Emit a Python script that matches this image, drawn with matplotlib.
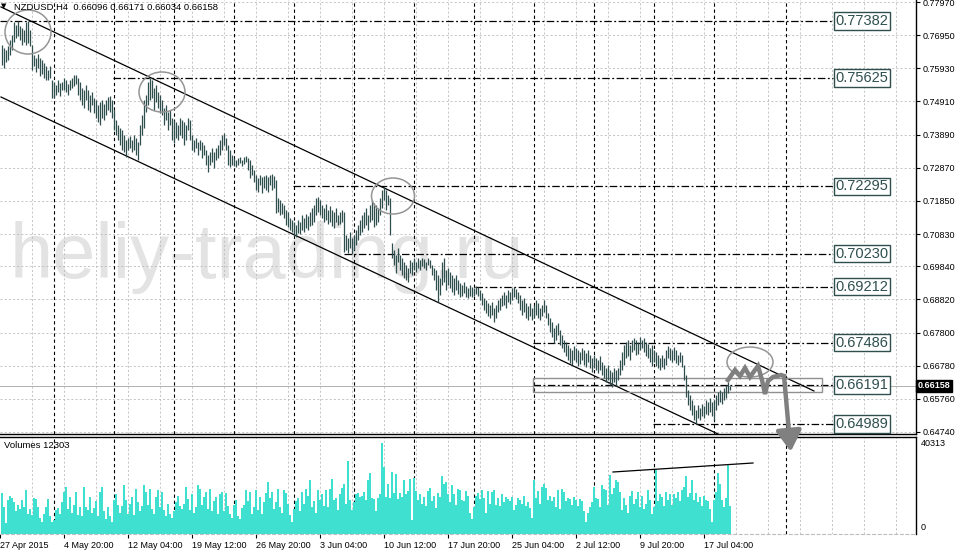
import matplotlib
matplotlib.use("Agg")
import matplotlib.pyplot as plt
from matplotlib.patches import Ellipse, Rectangle, FancyArrowPatch
import numpy as np

plt.rcParams['font.family'] = ['Liberation Sans', 'DejaVu Sans']

# NZDUSD H4 bars, high / low in pips (1 pip = 0.0001), one row per trading week
bar_high = [
    7665, 7656, 7649, 7661, 7680, 7695, 7735, 7726, 7738, 7723, 7717, 7711, 7735, 7738, 7711, 7665, 7634, 7625, 7637, 7625, 7618, 7609, 7600, 7588, 7600, 7557,
    7551, 7541, 7557, 7548, 7551, 7563, 7557, 7545, 7557, 7563, 7572, 7572, 7563, 7551, 7532, 7526, 7541, 7526, 7511, 7520, 7502, 7495, 7480, 7489, 7495, 7483, 7495, 7505, 7508, 7495,
    7465, 7434, 7418, 7409, 7403, 7388, 7372, 7378, 7385, 7372, 7388, 7378, 7366, 7418, 7449, 7495, 7511, 7551, 7562, 7557, 7532, 7541, 7520, 7511, 7495, 7471, 7480, 7458, 7465, 7440,
    7434, 7428, 7418, 7440, 7434, 7428, 7418, 7440, 7434, 7388, 7372, 7378, 7366, 7372, 7366, 7357, 7342, 7326, 7335, 7348, 7335, 7348, 7357, 7372, 7388, 7394, 7378, 7357, 7342, 7326,
    7317, 7311, 7317, 7320, 7311, 7320, 7323, 7317, 7311, 7295, 7280, 7265, 7255, 7265, 7258, 7261, 7265, 7258, 7265, 7268, 7261, 7249, 7194, 7188, 7178, 7172, 7157, 7151, 7132, 7126,
    7120, 7111, 7126, 7120, 7141, 7132, 7145, 7138, 7151, 7163, 7172, 7194, 7197, 7188, 7172, 7163, 7175, 7157, 7169, 7157, 7151, 7163, 7141, 7151, 7157, 7151, 7080, 7071, 7089, 7071,
    7080, 7095, 7111, 7126, 7141, 7151, 7163, 7141, 7172, 7188, 7178, 7172, 7163, 7194, 7218, 7229, 7218, 7203, 7194, 7055, 7034, 7018, 7040, 7018, 7009, 6997, 6988, 6978, 7003, 6997,
    7009, 6997, 7009, 7003, 7009, 7006, 6997, 7009, 7003, 6988, 6978, 6972, 6957, 6948, 6997, 7009, 6972, 6978, 6966, 6957, 6948, 6957, 6942, 6932, 6926, 6935, 6923, 6917, 6926, 6920,
    6917, 6923, 6920, 6911, 6901, 6886, 6880, 6871, 6865, 6874, 6855, 6865, 6880, 6886, 6895, 6905, 6895, 6911, 6905, 6917, 6920, 6914, 6905, 6895, 6880, 6886, 6871, 6861, 6871, 6855,
    6865, 6880, 6871, 6855, 6865, 6880, 6865, 6840, 6825, 6812, 6794, 6803, 6809, 6788, 6772, 6757, 6751, 6742, 6732, 6726, 6738, 6732, 6726, 6720, 6732, 6726, 6717, 6726, 6711, 6702,
    6711, 6702, 6695, 6708, 6689, 6680, 6671, 6680, 6665, 6658, 6671, 6665, 6671, 6695, 6720, 6742, 6751, 6757, 6742, 6757, 6763, 6757, 6751, 6766, 6757, 6763, 6751, 6745, 6732, 6742,
    6726, 6720, 6711, 6702, 6711, 6702, 6726, 6738, 6732, 6726, 6735, 6726, 6711, 6720, 6711, 6680, 6649, 6603, 6588, 6572, 6557, 6541, 6557, 6548, 6560, 6554, 6572, 6566, 6579, 6566,
    6572, 6588, 6597, 6603, 6597, 6609, 6618, 6628, 6617,
]
bar_low = [
    7603, 7594, 7612, 7618, 7634, 7649, 7674, 7686, 7692, 7680, 7665, 7674, 7665, 7671, 7661, 7588, 7600, 7582, 7594, 7569, 7575, 7563, 7557, 7557, 7563, 7502,
    7502, 7511, 7520, 7508, 7526, 7526, 7520, 7511, 7526, 7532, 7538, 7545, 7511, 7495, 7480, 7471, 7495, 7465, 7458, 7480, 7455, 7440, 7428, 7418, 7440, 7434, 7449, 7465, 7458, 7440,
    7403, 7388, 7372, 7357, 7342, 7335, 7320, 7342, 7348, 7335, 7342, 7326, 7311, 7357, 7388, 7409, 7458, 7480, 7495, 7502, 7465, 7489, 7471, 7455, 7449, 7418, 7434, 7403, 7418, 7372,
    7363, 7378, 7372, 7388, 7378, 7357, 7372, 7403, 7372, 7342, 7335, 7348, 7326, 7342, 7317, 7326, 7295, 7274, 7295, 7305, 7286, 7311, 7317, 7326, 7342, 7357, 7342, 7295, 7289, 7295,
    7292, 7289, 7295, 7301, 7292, 7298, 7305, 7280, 7255, 7265, 7243, 7218, 7212, 7234, 7209, 7224, 7218, 7212, 7234, 7218, 7224, 7147, 7151, 7141, 7144, 7132, 7111, 7105, 7095, 7089,
    7077, 7074, 7086, 7083, 7095, 7089, 7101, 7095, 7108, 7111, 7120, 7141, 7151, 7141, 7132, 7120, 7126, 7114, 7120, 7108, 7101, 7120, 7111, 7114, 7120, 7028, 7034, 7025, 7040, 7022,
    7034, 7049, 7065, 7080, 7089, 7101, 7111, 7095, 7120, 7126, 7105, 7111, 7120, 7141, 7163, 7188, 7157, 7172, 7080, 7009, 6988, 6963, 6997, 6972, 6957, 6948, 6942, 6935, 6963, 6957,
    6972, 6966, 6978, 6972, 6985, 6978, 6972, 6988, 6978, 6957, 6942, 6911, 6874, 6895, 6926, 6935, 6911, 6926, 6917, 6905, 6895, 6911, 6898, 6889, 6892, 6901, 6889, 6886, 6892, 6889,
    6892, 6898, 6892, 6880, 6865, 6849, 6840, 6831, 6825, 6834, 6812, 6825, 6843, 6849, 6862, 6865, 6855, 6874, 6868, 6880, 6889, 6883, 6871, 6849, 6834, 6843, 6825, 6819, 6831, 6819,
    6825, 6834, 6825, 6819, 6831, 6843, 6825, 6803, 6782, 6766, 6748, 6757, 6772, 6742, 6732, 6720, 6708, 6695, 6686, 6680, 6695, 6689, 6677, 6683, 6695, 6680, 6674, 6689, 6671, 6658,
    6671, 6665, 6655, 6665, 6649, 6640, 6628, 6634, 6618, 6612, 6628, 6615, 6634, 6649, 6665, 6680, 6702, 6708, 6695, 6720, 6726, 6711, 6714, 6726, 6732, 6720, 6708, 6702, 6689, 6677,
    6689, 6677, 6671, 6665, 6674, 6668, 6680, 6702, 6695, 6689, 6695, 6686, 6680, 6689, 6674, 6634, 6582, 6557, 6541, 6526, 6511, 6499, 6517, 6511, 6523, 6517, 6529, 6526, 6535, 6523,
    6511, 6541, 6557, 6566, 6560, 6572, 6579, 6594, 6603,
]
volumes = [
    18000, 12000, 4700, 15000, 17000, 16000, 14000, 10000, 13000, 11000, 15000, 12000, 19500, 9000, 11000, 8500, 16000, 15500, 12000, 7000, 5500, 9000, 12000, 15500, 8000, 5500,
    6000, 10500, 11500, 9000, 14000, 18500, 21000, 11000, 16500, 9500, 13000, 18500, 8500, 12000, 8000, 21000, 12000, 10500, 16500, 9500, 11500, 14500, 8000, 18500, 21000, 10000, 6500, 12000, 8000, 5500,
    15000, 17500, 13000, 9500, 12500, 21500, 15000, 9000, 13500, 16500, 8500, 20000, 14000, 10000, 12500, 21500, 18500, 13000, 20000, 11000, 9000, 16500, 19500, 12000, 18500, 10500, 8000, 13500, 9000, 7000,
    10000, 14000, 17000, 12500, 11000, 13500, 21000, 15500, 10500, 17500, 9500, 12000, 21500, 20000, 13000, 16500, 18500, 11000, 20000, 10000, 14500, 16500, 9000, 17500, 18500, 10000, 18000, 12500, 9000, 7000,
    13000, 15000, 8000, 6500, 11500, 13000, 19500, 14500, 18500, 9000, 12000, 19500, 10500, 16500, 9000, 14000, 18000, 23000, 16000, 18500, 11000, 14000, 20000, 12000, 9500, 19500, 18000, 13500, 8500, 5500,
    11000, 14500, 16000, 10000, 18500, 13500, 20000, 17000, 24000, 12000, 14500, 9500, 19500, 15000, 17500, 12500, 19500, 12000, 20000, 24500, 15000, 16000, 10500, 17500, 20500, 22000, 13500, 32500, 15000, 10500,
    14000, 17500, 18000, 16500, 17000, 18500, 15000, 24000, 27000, 16000, 15500, 10000, 16000, 17500, 40313, 29500, 16500, 22000, 16000, 27500, 18000, 26500, 15500, 18000, 16500, 24000, 17500, 19000, 24500, 6000,
    25000, 19000, 15000, 17500, 13500, 16500, 12500, 19000, 20500, 14500, 17000, 11500, 18000, 16500, 25500, 22000, 23000, 17500, 14000, 21500, 17500, 13000, 20000, 19500, 15000, 14500, 19000, 17000, 9500, 6500,
    12000, 17000, 18000, 15500, 19500, 16000, 9500, 19000, 13500, 18500, 19500, 13000, 16000, 12500, 17500, 14000, 16500, 15500, 14500, 16500, 10500, 13000, 16000, 15000, 13500, 17000, 12500, 14000, 11500, 7000,
    24000, 16000, 19000, 13500, 21000, 22000, 20500, 15000, 17000, 14500, 16500, 12000, 19500, 11000, 20000, 18500, 14500, 16000, 15500, 13000, 16500, 15000, 12500, 15500, 14500, 10000, 5500, 9500, 12000, 14000,
    21000, 16000, 15500, 12000, 21500, 20000, 19500, 13000, 26000, 17500, 20500, 24000, 23000, 18500, 10500, 16000, 13000, 9500, 17000, 19000, 13500, 15500, 18500, 12000, 17000, 11000, 13500, 19500, 15000, 9000,
    12000, 28500, 14500, 17500, 16500, 12500, 18500, 15000, 17500, 13000, 17500, 16000, 18500, 14500, 19500, 21000, 25500, 16500, 18000, 24000, 15000, 18000, 14000, 16500, 12500, 17000, 15000, 14500, 11000, 5500,
    15000, 18500, 27000, 22000, 15000, 12000, 16000, 30500, 12303,
]

# time axis
date_labels = ["27 Apr 2015", "4 May 20:00", "12 May 04:00", "19 May 12:00", "26 May 20:00",
               "3 Jun 04:00", "10 Jun 12:00", "17 Jun 20:00", "25 Jun 04:00", "2 Jul 12:00",
               "9 Jul 20:00", "17 Jul 04:00"]
week_start = [27, 57, 87, 117, 147, 177, 207, 237, 267, 297, 327, 357, 393]

# price scale
price_ticks = [0.7797, 0.7695, 0.7593, 0.7491, 0.7389, 0.7287, 0.7185,
               0.7083, 0.6984, 0.6882, 0.6780, 0.6678, 0.6576, 0.6474]

# drawn horizontal levels and the bar where each starts
levels = [0.77382, 0.75625, 0.72295, 0.70230, 0.69212, 0.67486, 0.66191, 0.64989]
level_start = [0, 56.5, 146.5, 172, 237.5, 266.5, 266.5, 326.5]

bid = 0.66158
ohlc_last = "0.66096 0.66171 0.66034 0.66158"

BAR_COL = "#2f4f4f"
GRID_COL = "#bcbcbc"
VOL_COL = "#40e0d0"
W, H = 955, 552

fig = plt.figure(figsize=(W / 100, H / 100), dpi=100)
ax = fig.add_axes([0, 1 - 434 / H, 916 / W, 434 / H])
axv = fig.add_axes([0, 1 - 534 / H, 916 / W, 97 / H])
ax.set_zorder(2)
ax.patch.set_visible(False)

x = np.arange(1, len(bar_high) + 1)
hi = np.array(bar_high) / 10000
lo = np.array(bar_low) / 10000

for a in (ax, axv):
    a.set_xlim(0, 458)
    for u in np.arange(16, 458, 16):
        a.axvline(u, color=GRID_COL, lw=0.6, ls=(0, (2.5, 2.5)), zorder=0.5)
    for u in week_start:
        a.axvline(u, color="black", lw=0.8, ls=(0, (3, 2.5)), zorder=0.6)
    a.spines["left"].set_visible(False)
    a.spines["right"].set_linewidth(1.0)

ax.set_ylim(0.64678, 0.78032)
for p in price_ticks:
    ax.axhline(p, color=GRID_COL, lw=0.6, ls=(0, (2.5, 2.5)), zorder=0.5)

# watermark
ax.text(5, 0.69478, "heliy-trading.ru", fontsize=56, color="#e3e3e3",
        va="baseline", ha="left", zorder=0.3)

# bid line
ax.axhline(bid, color="#b0b0b0", lw=0.7, zorder=1)

# price bars
ax.vlines(x, lo, hi, color=BAR_COL, lw=0.9, zorder=3)

# channel
ax.plot([0.5, 407], [0.77817, 0.66001], color="black", lw=0.9, zorder=2)
ax.plot([0.5, 359], [0.75047, 0.64678], color="black", lw=0.9, zorder=2)

# levels with boxed labels
for p, s in zip(levels, level_start):
    ax.plot([s, 416.5], [p, p], color="black", lw=0.9, ls=(0, (6, 2, 1.5, 2)), zorder=2)
    ax.text(417.8, p, f"{p:.5f}", fontsize=10.5, color="#2f4f4f", va="center", ha="left",
            zorder=5, bbox=dict(boxstyle="square,pad=0.12", fc="white", ec="#2f4f4f", lw=1.0))

# rectangle around the 0.66191 zone
ax.add_patch(Rectangle((266.5, 0.65970), 411 - 266.5, 0.66401 - 0.65970,
                       fill=False, ec="#909090", lw=1.0, zorder=2))

# ellipses marking the channel touches
for cx, cy, w, h in [(14, 0.77047, 23, 0.01354), (81, 0.75201, 23, 0.01231),
                     (196.5, 0.72001, 21.5, 0.01108), (375, 0.66893, 23, 0.00923)]:
    ax.add_patch(Ellipse((cx, cy), w, h, fill=False, ec="#959595", lw=1.1, zorder=4))

# projected path
path_u = [364, 367.5, 370, 372.5, 375, 377.5, 379, 381, 382.5, 384, 386.5, 390.5, 392]
path_p = [0.66339, 0.66647, 0.66463, 0.66709, 0.66432, 0.66647, 0.66770, 0.66339,
          0.65908, 0.66308, 0.66432, 0.66493, 0.66463]
ax.plot(path_u, path_p, color="#808080", lw=3.2, zorder=6, solid_joinstyle="miter")
arr = FancyArrowPatch((392, 0.66463), (395.5, 0.6405),
                      arrowstyle="-|>,head_length=0.9,head_width=0.55",
                      mutation_scale=14, lw=3.2, color="#808080", zorder=6, clip_on=False)
ax.add_patch(arr)

# price axis
ax.yaxis.tick_right()
ax.set_yticks(price_ticks)
ax.set_yticklabels([f"{p:.5f}" for p in price_ticks])
ax.tick_params(axis="y", length=3, pad=2, labelsize=6.5, width=0.8)
ax.set_xticks([])
ax.spines["top"].set_visible(False)
ax.spines["bottom"].set_linewidth(1.0)
ax.text(1.002, bid, f"{bid:.5f}", transform=ax.get_yaxis_transform(), fontsize=6.5,
        color="white", va="center", ha="left", fontweight="bold",
        bbox=dict(boxstyle="square,pad=0.15", fc="black", ec="black"), clip_on=False)

# volume panel
axv.set_ylim(0, 42970)
axv.bar(x, volumes, width=1.15, color=VOL_COL, lw=0, zorder=3)
axv.plot([306.5, 376.5], [27466, 31453], color="black", lw=0.9, zorder=4)
axv.set_yticks([])
axv.spines["top"].set_linewidth(1.0)
axv.spines["bottom"].set_color(GRID_COL)
axv.spines["bottom"].set_linestyle((0, (2.5, 2.5)))
axv.set_xticks(np.arange(len(date_labels)) * 32)
axv.set_xticklabels(date_labels, ha="left")
axv.tick_params(axis="x", length=3, pad=2, labelsize=6.5, width=0.8)

fig.text(921 / W, 1 - 444 / H, f"{max(volumes)}", fontsize=6.5, va="center", ha="left")
fig.text(921 / W, 1 - 528 / H, "0", fontsize=6.5, va="center", ha="left")
fig.text(4 / W, 1 - 446 / H, f"Volumes {volumes[-1]}", fontsize=6.8, va="center", ha="left")
fig.text(1 / W, 1 - 6 / H, "\u25bc", fontsize=5, va="center", ha="left", family="DejaVu Sans")
fig.text(14 / W, 1 - 7 / H, "NZDUSD,H4  " + ohlc_last, fontsize=6.8, va="center", ha="left")

fig.savefig("out.png", dpi=100, facecolor="white")
